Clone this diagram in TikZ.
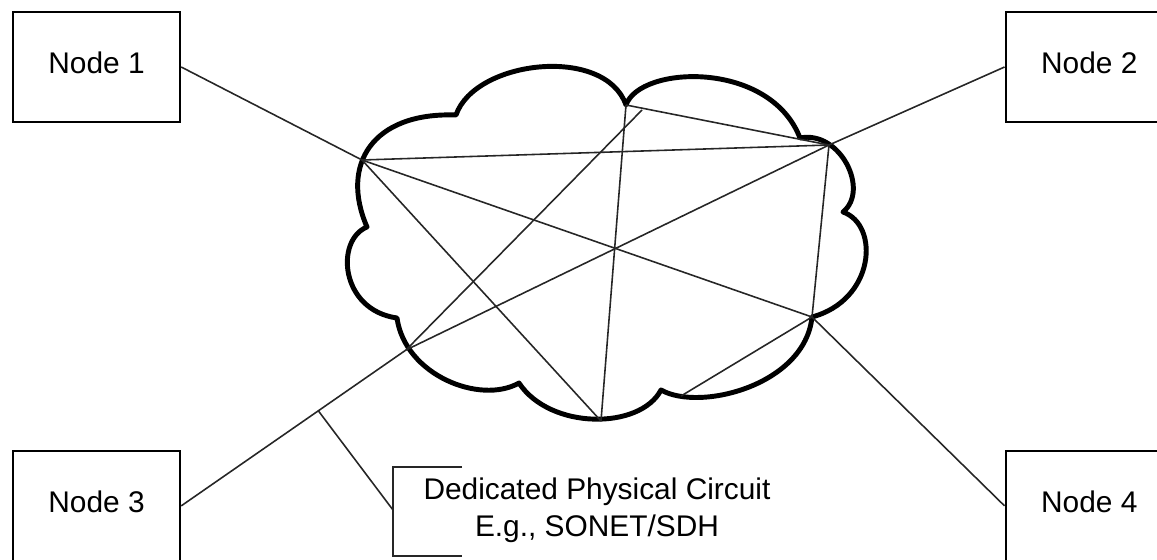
\documentclass[tikz,border=0pt]{standalone}
\usepackage{fontspec}
\setmainfont{Liberation Sans}
\usetikzlibrary{positioning,calc}

\begin{document}
\begin{tikzpicture}[x=0.02cm, y=0.02cm,
  nodebox/.style={rectangle, draw=black, line width=1.4pt, minimum width=3.34cm, minimum height=2.2cm, text depth=0.16cm, font=\fontsize{17}{21}\selectfont},
  link/.style={draw=black!85, line width=0.9pt},
  cloudline/.style={draw=black, line width=2.8pt, line join=round},
  note/.style={align=center, inner sep=0pt, font=\fontsize{17}{21}\selectfont}
]
\useasboundingbox (0,0) rectangle (1157,559);
\node[nodebox] (n1) at (96.5,492) {Node 1};
\node[nodebox, right=16.47cm of n1] (n2) {Node 2};
\node[nodebox, below=6.53cm of n1] (n3) {Node 3};
\node[nodebox, below=6.53cm of n2] (n4) {Node 4};

% cloud
\coordinate (c1) at (456,444);
\coordinate (c2) at (626,454);
\coordinate (c3) at (800,421);
\coordinate (c4) at (843,347);
\coordinate (c6) at (661,169);
\coordinate (c7) at (519,176);
\coordinate (c8) at (397,241);
\coordinate (c9) at (367,332);
\coordinate (p4) at (812,242);
\draw[cloudline] (c9) .. controls (340,394) and (372,447) .. (c1)
  .. controls (475,499) and (605,514) .. (c2)
  .. controls (640,494) and (770,499) .. (c3)
  .. controls (840,429) and (870,369) .. (c4)
  .. controls (880,334) and (875,259) .. (p4)
  .. controls (805,174) and (700,147) .. (c6)
  .. controls (640,129) and (550,129) .. (c7)
  .. controls (480,154) and (405,184) .. (c8)
  .. controls (340,249) and (335,319) .. (c9) -- cycle;

% circuits
\coordinate (p1) at (362,399);
\coordinate (p2) at (829,414);
\coordinate (p3) at (406,209);
\coordinate (p5) at (601,138);
\coordinate (t1) at (642,449);
\coordinate (t2) at (681,163);
\draw[link] (n1.east) -- (p1);
\draw[link] (n2.west) -- (p2);
\draw[link] (n3.east) -- coordinate[pos=0.61] (tap) (p3);
\draw[link] (n4.west) -- (p4);
\foreach \a/\b in {p1/p2, p1/p4, p1/p5, c2/p5, t1/p3, c2/p2, p3/p2, p2/p4, t2/p4}
  \draw[link] (\a) -- (\b);

% callout
\coordinate (brk) at (393,49);
\node[note] (ckt) at (597,49) {Dedicated Physical Circuit\\E.g., SONET/SDH};
\draw[link, line width=1.1pt] (462,92) -- (393,92) -- (393,3) -- (462,3);
\draw[link] (tap) -- (brk);
\end{tikzpicture}
\end{document}
